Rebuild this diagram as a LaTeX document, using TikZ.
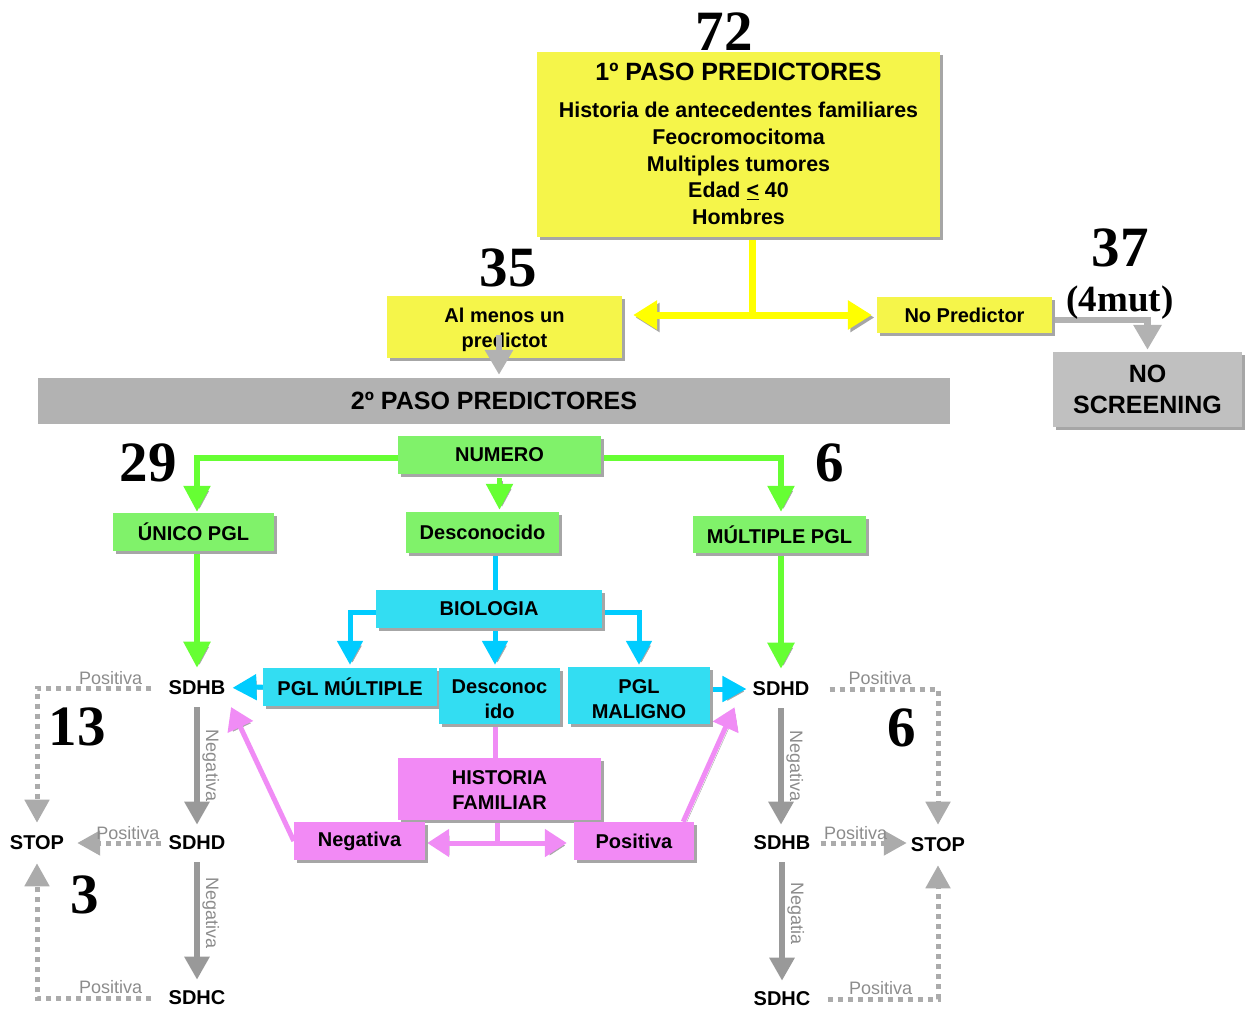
\documentclass[tikz,border=0pt]{standalone}
\usepackage{fontspec}
\setmainfont{Liberation Sans}
\newfontfamily\numfont{Liberation Serif}
\usetikzlibrary{arrows.meta,shadows,calc}

\definecolor{boxyellow}{HTML}{F5F54A}
\definecolor{arryellow}{HTML}{FFFF00}
\definecolor{boxgreen}{HTML}{80F26A}
\definecolor{arrgreen}{HTML}{66FF33}
\definecolor{boxcyan}{HTML}{33DDF2}
\definecolor{arrcyan}{HTML}{00CCFF}
\definecolor{boxpink}{HTML}{F28AF5}
\definecolor{arrpink}{HTML}{F08CF5}
\definecolor{bargray}{HTML}{B2B2B2}
\definecolor{nsgray}{HTML}{C0C0C0}
\definecolor{solidgray}{HTML}{999999}
\definecolor{dotgray}{HTML}{ABABAB}
\definecolor{labelgray}{HTML}{8C8C8C}
\definecolor{shadegray}{HTML}{A6A6A6}

\pgfdeclarelayer{bg}
\pgfsetlayers{bg,main}

\tikzset{
  box/.style={inner sep=0pt, align=center,
    font=\bfseries\fontsize{20}{25}\selectfont,
    drop shadow={shadow xshift=3pt, shadow yshift=-3pt, fill=shadegray, opacity=1}},
  ybox/.style={box, fill=boxyellow},
  gbox/.style={box, fill=boxgreen},
  cbox/.style={box, fill=boxcyan},
  pbox/.style={box, fill=boxpink},
  lbl/.style={inner sep=0pt, font=\bfseries\fontsize{20}{25}\selectfont},
  num/.style={inner sep=0pt, font=\numfont\bfseries\fontsize{57}{57}\selectfont},
  poslbl/.style={inner sep=0pt, anchor=base, text=labelgray, font=\fontsize{18}{18}\selectfont},
  neglbl/.style={inner sep=2.5pt, rotate=-90, anchor=south, text=labelgray, font=\fontsize{18}{18}\selectfont},
  shadowed/.style={preaction={draw=shadegray, transform canvas={xshift=2.5pt, yshift=-2.5pt}}},
  yline/.style={draw=arryellow, line width=7pt, shadowed},
  yarr/.style={yline, {Triangle[length=24pt,width=28pt]}-{Triangle[length=24pt,width=28pt]}},
  garr/.style={draw=arrgreen, line width=5.5pt, shadowed, -{Triangle[length=26pt,width=26pt]}},
  cline/.style={draw=arrcyan, line width=5pt, shadowed},
  carr/.style={cline, -{Triangle[length=24pt,width=25pt]}},
  pline/.style={draw=arrpink, line width=5pt, shadowed},
  parr/.style={pline, -{Triangle[length=22pt,width=27pt]}},
  sarr/.style={draw=solidgray, line width=6pt, -{Triangle[length=23pt,width=24pt]}},
  darr/.style={draw=dotgray, line width=5pt, dash pattern=on 5pt off 5pt,
    -{Triangle[length=23pt,width=24pt]}},
  grayarr/.style={draw=bargray, line width=6.5pt, -{Triangle[length=25pt,width=27pt]}},
}

\begin{document}
\begin{tikzpicture}[x=1pt,y=-1pt]
\useasboundingbox (0,0) rectangle (1248,1009);

% ---- first step ----
\node[ybox, minimum width=403pt, minimum height=185pt] (top) at (738.5,144.5) {};
\node[lbl, font=\bfseries\fontsize{25}{30}\selectfont] (toptitle) at (738.5,72) {1º PASO PREDICTORES};
\node[lbl, align=center, font=\bfseries\fontsize{21.4}{26.75}\selectfont] (toplist) at (738.5,163.5)
  {Historia de antecedentes familiares\\Feocromocitoma\\Multiples tumores\\Edad \underline{<} 40\\Hombres};

\node[ybox, minimum width=235pt, minimum height=62pt, text height=40.4pt, text depth=0pt]
  (alm) at (504.5,327) {Al menos un\\predictot};
\node[ybox, minimum width=175pt, minimum height=36pt] (nopred) at (964.5,315) {No Predictor};
\node[box, fill=nsgray, minimum width=189pt, minimum height=75pt,
  font=\bfseries\fontsize{25}{31}\selectfont] (nosc) at (1147.5,389.5) {NO\\SCREENING};

% ---- second step ----
\node[lbl, fill=bargray, minimum width=912pt, minimum height=46pt,
  font=\bfseries\fontsize{25}{30}\selectfont] (paso2) at (494,401) {2º PASO PREDICTORES};

\node[gbox, minimum width=203pt, minimum height=38pt] (numero) at (499.5,455) {NUMERO};
\node[gbox, minimum width=161pt, minimum height=38pt] (unico) at (193.5,532) {ÚNICO PGL};
\node[gbox, minimum width=153pt, minimum height=41pt] (desc1) at (482.5,532.5) {Desconocido};
\node[gbox, minimum width=173pt, minimum height=37pt] (mult) at (779.5,534.5) {MÚLTIPLE PGL};

\node[cbox, minimum width=226pt, minimum height=38pt] (bio) at (489,609) {BIOLOGIA};
\node[cbox, minimum width=174pt, minimum height=38pt] (pglm) at (350,687) {PGL MÚLTIPLE};
\node[cbox, minimum width=121pt, minimum height=56pt, text height=44.4pt, text depth=0pt]
  (desc2) at (499.5,696) {Desconoc\\ido};
\node[cbox, minimum width=142pt, minimum height=57pt, text height=45.4pt, text depth=0pt]
  (pglmal) at (639,695.5) {PGL\\MALIGNO};

\node[pbox, minimum width=203pt, minimum height=62pt, text height=40.4pt, text depth=0pt]
  (hist) at (499.5,789) {HISTORIA\\FAMILIAR};
\node[pbox, minimum width=131pt, minimum height=38pt] (neg) at (359.5,841) {Negativa};
\node[pbox, minimum width=120pt, minimum height=38pt] (pos) at (634,841) {Positiva};

% ---- gene tests ----
\node[lbl] (sdhbL) at (197,688) {SDHB};
\node[lbl] (sdhdL) at (197,843) {SDHD};
\node[lbl] (sdhcL) at (197,998) {SDHC};
\node[lbl] (stopL) at (37,843) {STOP};
\node[lbl] (sdhdR) at (781,689) {SDHD};
\node[lbl] (sdhbR) at (782,843) {SDHB};
\node[lbl] (sdhcR) at (782,999) {SDHC};
\node[lbl] (stopR) at (938,845) {STOP};

% ---- counts ----
\node[num] (n72) at (724,32) {72};
\node[num] (n35) at (508,268) {35};
\node[num] (n37) at (1120,248) {37};
\node[num, font=\numfont\bfseries\fontsize{37}{37}\selectfont] (n4mut) at (1120,303) {(4mut)};
\node[num] (n29) at (148,463) {29};
\node[num] (n6a) at (830,463) {6};
\node[num] (n13) at (77,727) {13};
\node[num] (n3) at (85,895) {3};
\node[num] (n6b) at (902,728) {6};

\begin{pgfonlayer}{bg}
  % first split
  \coordinate (yj) at (752,315);
  \draw[yline] (top.south -| yj) -- (yj);
  \draw[yarr, shorten <=11pt, shorten >=5pt] (yj -| alm.east) -- (yj -| nopred.west);
  \draw[grayarr, shorten >=2pt] ([yshift=-5pt]nopred.east) -| (nosc.north);

  % number of tumours
  \draw[garr, shorten >=1pt] ([yshift=-3pt]numero.west) -| (sdhbL |- unico.north);
  \draw[garr, shorten >=1pt] ([yshift=-3pt]numero.east) -| (sdhdR |- unico.north);
  \draw[garr, shorten <=4pt, shorten >=2pt] (numero.south) -- (numero.south |- desc1.north);
  \draw[garr, shorten >=13pt] (sdhbL |- unico.south) -- (sdhbL.north);
  \draw[garr, shorten >=13pt] (sdhdR |- mult.south) -- (sdhdR.north);

  % biology
  \coordinate (cx) at (495,600);
  \draw[cline] (desc1.south -| cx) -- (bio.north -| cx);
  \draw[carr, shorten >=3pt] ([yshift=-3pt]bio.west) -| (pglm.north);
  \draw[carr, shorten >=3pt] (bio.south -| cx) -- (desc2.north -| cx);
  \draw[carr, shorten >=2pt] ([yshift=-3pt]bio.east) -| (pglmal.north);
  \draw[carr, shorten >=7pt] (pglm.west) -- (sdhbL.east);
  \draw[carr, shorten >=6pt] (pglmal.east |- sdhdR.west) -- (sdhdR.west);

  % family history
  \draw[pline] (desc2.south -| cx) -- (hist.north -| cx);
  \coordinate (pj) at (497,843);
  \draw[pline] (hist.south -| pj) -- (pj);
  \draw[parr, shorten >=2pt] (pj) -- (pj -| neg.east);
  \draw[parr, shorten >=7pt] (pj) -- (pj -| pos.west);
  \draw[parr, shorten >=13pt] (neg.west) -- (sdhbL.south east);
  \draw[parr, shorten >=12pt] ([xshift=-11pt]pos.north east) -- ([xshift=-13pt]sdhdR.south west);
\end{pgfonlayer}

\draw[grayarr, shorten <=8pt, shorten >=3pt] ([xshift=-5.5pt]alm.center) -- ([xshift=-5.5pt]alm.center |- paso2.north);

% left test sequence
\draw[sarr, shorten <=12pt, shorten >=11pt] (sdhbL.south) -- node[neglbl]{Negativa} (sdhdL.north);
\draw[sarr, shorten <=12pt, shorten >=11pt] (sdhdL.south) -- node[neglbl, pos=0.45]{Negativa} (sdhcL.north);
\draw[darr, shorten <=17pt, shorten >=13pt] (sdhbL.west)
  -- node[poslbl, pos=0.44, yshift=4pt]{Positiva} (sdhbL.west -| stopL.north) -- (stopL.north);
\draw[darr, shorten <=7pt, shorten >=13pt] (sdhdL.west)
  -- node[poslbl, pos=0.39, yshift=3.5pt]{Positiva} (stopL.east);
\draw[darr, shorten <=17pt, shorten >=13pt] (sdhcL.west)
  -- node[poslbl, pos=0.44, yshift=4.5pt]{Positiva} (sdhcL.west -| stopL.south) -- (stopL.south);

% right test sequence
\draw[sarr, shorten <=12pt, shorten >=11pt] (sdhdR.south) -- node[neglbl]{Negativa} (sdhdR.south |- sdhbR.north);
\draw[sarr, shorten <=12pt, shorten >=11pt] (sdhbR.south) -- node[neglbl, pos=0.45]{Negatia} (sdhbR.south |- sdhcR.north);
\draw[darr, shorten <=20pt, shorten >=13pt] (sdhdR.east)
  -- node[poslbl, pos=0.55, yshift=4.5pt]{Positiva} (sdhdR.east -| stopR.north) -- (stopR.north);
\draw[darr, shorten <=10pt, shorten >=4pt] (sdhbR.east)
  -- node[poslbl, pos=0.45, yshift=3.5pt]{Positiva} (sdhbR.east -| stopR.west);
\draw[darr, shorten <=17pt, shorten >=13pt] (sdhcR.east)
  -- node[poslbl, pos=0.55, yshift=5pt]{Positiva} (sdhcR.east -| stopR.south) -- (stopR.south);
\end{tikzpicture}
\end{document}
